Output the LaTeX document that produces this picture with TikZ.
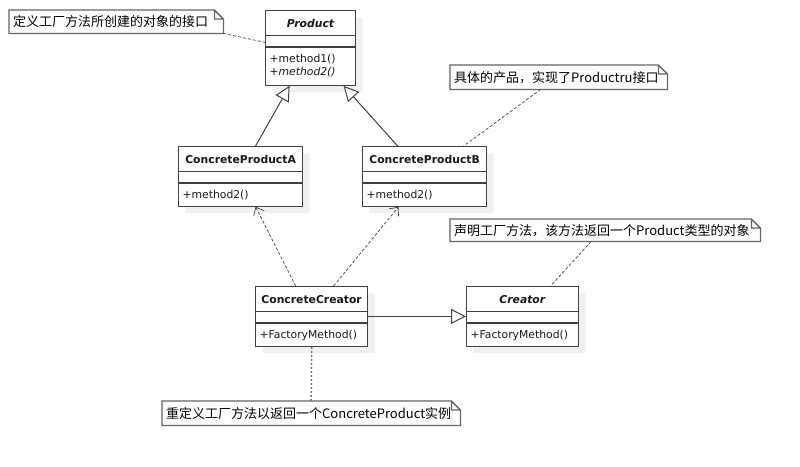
\documentclass[tikz,border=0pt]{standalone}
\usepackage{fontspec}
\setmainfont{DejaVu Sans}
\newfontfamily\cjk{Noto Sans CJK SC}
\usepackage{tikz}
\usetikzlibrary{shapes.multipart,arrows.meta,positioning,shadows}
\usepackage{xcolor}
\definecolor{umlline}{RGB}{64,64,64}
\definecolor{notegray}{RGB}{100,100,100}
\definecolor{shade}{RGB}{240,240,240}

\newcommand\cname[1]{\rule[-7.5pt]{0pt}{24pt}\textbf{#1}}
\newcommand\cgap{\rule{0pt}{10pt}}
\newcommand\cop[1]{\rule[-7pt]{0pt}{22pt}#1}
\newcommand\cops[2]{\rule[-22pt]{0pt}{37pt}\begin{tabular}[t]{@{}l@{}}#1\\#2\end{tabular}}

\begin{document}
\begin{tikzpicture}[x=1pt, y=-1pt,
  cls/.style={rectangle split, rectangle split parts=3,
              rectangle split part align={center,left,left},
              draw=umlline, line width=1.2pt, fill=white, anchor=north west,
              inner xsep=4pt, inner ysep=0pt, text=black!90,
              font=\fontsize{10.8}{13}\selectfont,
              drop shadow={shadow xshift=7pt, shadow yshift=-7pt, fill=shade, opacity=1}},
  note/.style={anchor=north west, inner xsep=4pt, inner ysep=0pt, align=left,
               font=\cjk\fontsize{13}{15}\selectfont},
  notebox/.style={draw=notegray, line width=1.3pt},
  link/.style={draw=umlline, line width=0.7pt, dash pattern=on 3pt off 2pt},
  fatlink/.style={draw=black!55, line width=1.5pt, dash pattern=on 2pt off 2pt},
  inh/.style={draw=umlline, line width=1pt, -{Triangle[open, length=15pt, width=15pt, fill=white]}},
  dep/.style={draw=umlline, line width=0.7pt, dash pattern=on 3pt off 2pt,
              -{Straight Barb[length=7pt, width=12pt]}}
]
  \useasboundingbox (0,0) rectangle (800,466);

  % Classes
  \node[cls, minimum width=90pt]  (product)  at (265,10)
    {\cname{\textit{Product}}\nodepart{two}\cgap\nodepart{three}\cops{+method1()}{+\textit{method2()}}};
  \node[cls, minimum width=124pt] (cpa)      at (178,146)
    {\cname{ConcreteProductA}\nodepart{two}\cgap\nodepart{three}\cop{+method2()}};
  \node[cls, minimum width=124pt] (cpb)      at (362,146)
    {\cname{ConcreteProductB}\nodepart{two}\cgap\nodepart{three}\cop{+method2()}};
  \node[cls, minimum width=112pt] (ccreator) at (255,286)
    {\cname{ConcreteCreator}\nodepart{two}\cgap\nodepart{three}\cop{+FactoryMethod()}};
  \node[cls, minimum width=112pt] (creator)  at (466,286)
    {\cname{\textit{Creator}}\nodepart{two}\cgap\nodepart{three}\cop{+FactoryMethod()}};

  % Notes
  \node[note, text width=206pt, minimum height=23pt] (note1) at (9,10)    {定义工厂方法所创建的对象的接口};
  \node[note, text width=209pt, minimum height=24pt] (note2) at (450,65)  {具体的产品，实现了Productru接口};
  \node[note, text width=302pt, minimum height=22pt] (note3) at (450,219) {声明工厂方法，该方法返回一个Product类型的对象};
  \node[note, text width=290pt, minimum height=24pt] (note4) at (162,401) {重定义工厂方法以返回一个ConcreteProduct实例};

  \foreach \n in {note1,note2,note3,note4}
    \draw[notebox] (\n.south west) -- (\n.north west) -- ([xshift=-9pt]\n.north east)
      -- ([yshift=-9pt]\n.north east) -- (\n.south east) -- cycle
      ([xshift=-9pt]\n.north east) |- ([yshift=-9pt]\n.north east);

  % Generalisation
  \draw[inh] ([xshift=15pt]cpa.north) -- ([xshift=-21pt]product.south);
  \draw[inh] ([xshift=-27pt]cpb.north) -- ([xshift=33pt]product.south);
  \draw[inh] (ccreator.east) -- (creator.west);

  % Dependencies
  \draw[dep] ([xshift=-16pt]ccreator.north) -- ([xshift=15pt]cpa.south);
  \draw[dep] ([xshift=22pt]ccreator.north) -- ([xshift=-26pt]cpb.south);

  % Note links
  \draw[link] (note1.south east) -- ([yshift=5.5pt]product.west);
  \draw[link] ([xshift=-18pt]note2.south) -- ([xshift=39pt]cpb.north);
  \draw[link] ([xshift=-14pt]note3.south) -- ([xshift=28pt]creator.north);
  \draw[fatlink] (ccreator.south) -- (note4.north);
\end{tikzpicture}
\end{document}
